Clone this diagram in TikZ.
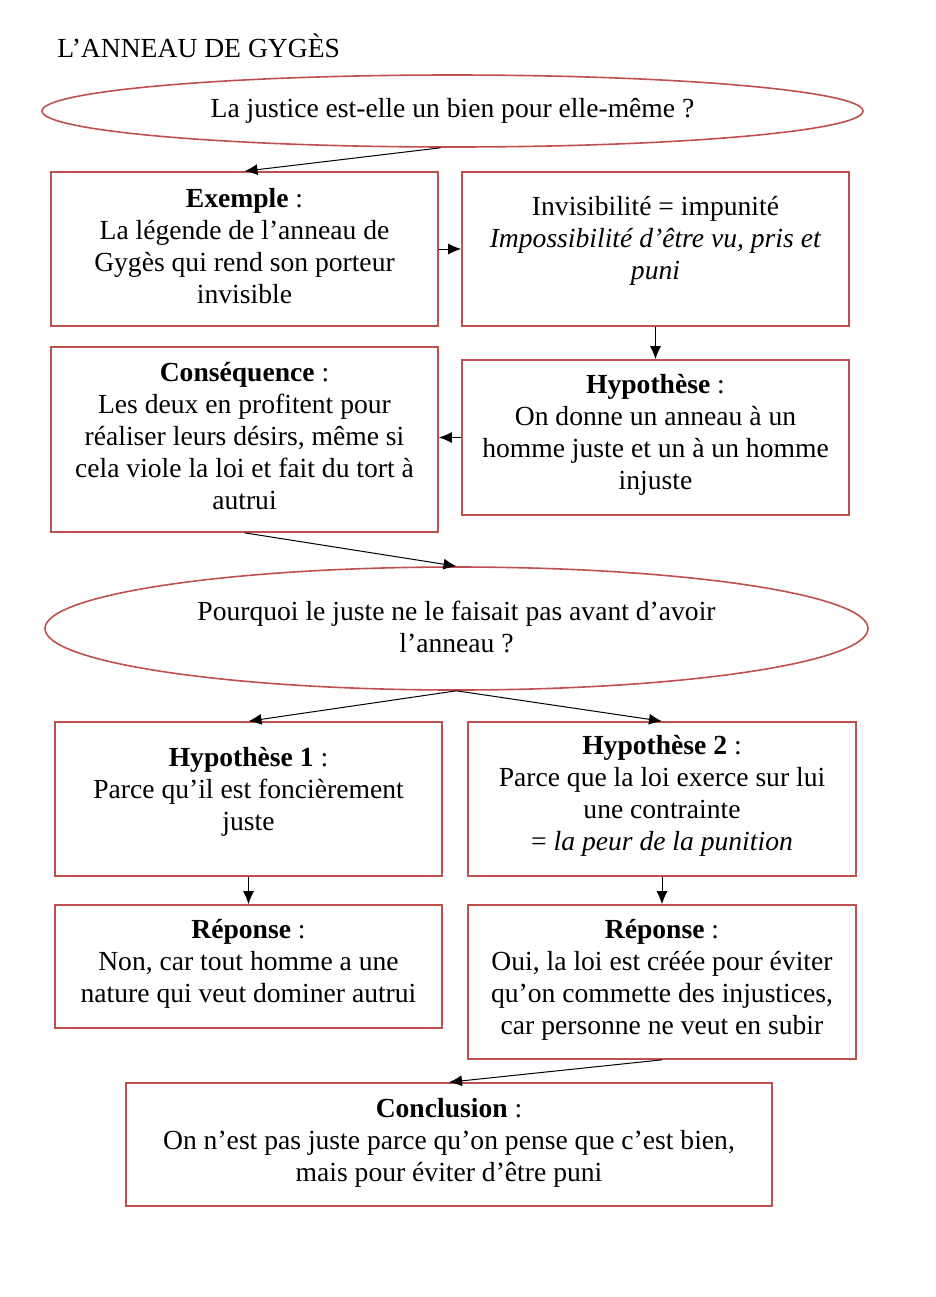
\documentclass[tikz,border=0pt]{standalone}
\usepackage{fontspec}
\setmainfont{Liberation Serif}
\usetikzlibrary{arrows.meta,shapes.geometric}
\definecolor{boxred}{HTML}{C0504D}
\begin{document}
\begin{tikzpicture}[x=0.5pt,y=-0.5pt,
  font=\fontsize{13.8}{16}\selectfont,
  boxst/.style={draw=boxred,line width=0.8pt,rectangle,inner sep=0pt},
  ellst/.style={draw=boxred,line width=0.8pt,ellipse,inner sep=0pt},
  txt/.style={align=center,inner sep=0pt},
  conn/.style={draw=black,line width=0.5pt,-{Latex[length=6.5pt,width=5.5pt]}}]
\useasboundingbox (0,0) rectangle (936,1297);
% title
\node[anchor=base west,inner sep=0pt] (title) at (57,57) {L’ANNEAU DE GYGÈS};
% ellipse 1
\node[ellst,minimum width=410.5pt,minimum height=36pt] (e1) at (452.5,111) {};
\node[txt] at (e1) {La justice est-elle un bien pour elle-même ?};
% boxes row 1
\node[boxst,minimum width=193.5pt,minimum height=77pt] (a) at (244.5,249) {};
\node[txt] at (244.5,246) {\textbf{Exemple} :\\La légende de l’anneau de\\Gygès qui rend son porteur\\invisible};
\node[boxst,minimum width=193.5pt,minimum height=77pt] (b) at (655.5,249) {};
\node[txt] at (655.5,241) {Invisibilité = impunité\\\textit{Impossibilité d’être vu, pris et}\\\textit{puni}};
% row 2
\node[boxst,minimum width=193.5pt,minimum height=92.5pt] (c) at (244.5,439.5) {};
\node[txt] at (244.5,436) {\textbf{Conséquence} :\\Les deux en profitent pour\\réaliser leurs désirs, même si\\cela viole la loi et fait du tort à\\autrui};
\node[boxst,minimum width=193.5pt,minimum height=77.5pt] (d) at (655.5,437.5) {};
\node[txt] at (655.5,434.5) {\textbf{Hypothèse} :\\On donne un anneau à un\\homme juste et un à un homme\\injuste};
% ellipse 2
\node[ellst,minimum width=411.5pt,minimum height=61.5pt] (e2) at (456.5,628.5) {};
\node[txt] at (456.5,627) {Pourquoi le juste ne le faisait pas avant d’avoir\\l’anneau ?};
% row 3
\node[boxst,minimum width=193.5pt,minimum height=77pt] (e) at (248.5,799) {};
\node[txt] at (248.5,791.5) {\textbf{Hypothèse 1} :\\Parce qu’il est foncièrement\\juste};
\node[boxst,minimum width=194pt,minimum height=77pt] (f) at (662,799) {};
\node[txt] at (662,796) {\textbf{Hypothèse 2} :\\Parce que la loi exerce sur lui\\une contrainte\\= \textit{la peur de la punition}};
% row 4
\node[boxst,minimum width=193.5pt,minimum height=61.5pt] (g) at (248.5,966.5) {};
\node[txt] at (248.5,964) {\textbf{Réponse} :\\Non, car tout homme a une\\nature qui veut dominer autrui};
\node[boxst,minimum width=194pt,minimum height=77pt] (h) at (662,982) {};
\node[txt] at (662,980) {\textbf{Réponse} :\\Oui, la loi est créée pour éviter\\qu’on commette des injustices,\\car personne ne veut en subir};
% conclusion
\node[boxst,minimum width=323pt,minimum height=61.5pt] (i) at (449,1144.5) {};
\node[txt] at (449,1142.5) {\textbf{Conclusion} :\\On n’est pas juste parce qu’on pense que c’est bien,\\mais pour éviter d’être puni};
% connectors
\draw[conn] ([xshift=-6pt]e1.south) -- (a.north);
\draw[conn] (a.east) -- (b.west);
\draw[conn] (b.south) -- (d.north);
\draw[conn] (d.west) -- (d.west -| c.east);
\draw[conn] (c.south) -- (e2.north);
\draw[conn] (e2.south) -- (e.north);
\draw[conn] (e2.south) -- (f.north);
\draw[conn] (e.south) -- (g.north);
\draw[conn] (f.south) -- (h.north);
\draw[conn] (h.south) -- (i.north);
\end{tikzpicture}
\end{document}
